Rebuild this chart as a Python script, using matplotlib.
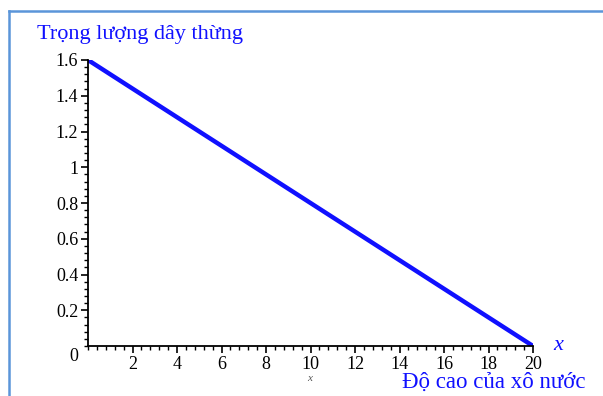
import matplotlib
matplotlib.use("Agg")
import matplotlib.pyplot as plt
from matplotlib.lines import Line2D
from matplotlib.ticker import MultipleLocator

# height of the bucket (m) and rope weight
heights = [0, 2, 4, 6, 8, 10, 12, 14, 16, 18, 20]
weights = [1.6, 1.44, 1.28, 1.12, 0.96, 0.8, 0.64, 0.48, 0.32, 0.16, 0.0]

x_ticks = [2, 4, 6, 8, 10, 12, 14, 16, 18, 20]
y_ticks = [0.2, 0.4, 0.6, 0.8, 1.0, 1.2, 1.4, 1.6]
y_tick_labels = ["0.2", "0.4", "0.6", "0.8", "1", "1.2", "1.4", "1.6"]

title_text = "Trọng lượng dây thừng"
xlabel_text = "Độ cao của xô nước"

serif = ["Liberation Serif", "DejaVu Serif"]
blue = "#1010ff"

fig = plt.figure(figsize=(6.03, 3.96), dpi=100)
W, H = 603, 396

# light blue frame (top and left edges)
frame = "#5b95d9"
fig.add_artist(Line2D([8.5 / W, 8.5 / W], [0, 1 - 10.5 / H], color=frame, lw=1.8,
                      transform=fig.transFigure))
fig.add_artist(Line2D([8.5 / W, 1], [1 - 10.5 / H, 1 - 10.5 / H], color=frame, lw=1.8,
                      transform=fig.transFigure))

ax = fig.add_axes([88 / W, 50 / H, 445 / W, 286 / H])
ax.plot(heights, weights, color=blue, lw=3.2, solid_capstyle="round")

ax.set_xlim(0, 20)
ax.set_ylim(0, 1.6)
for side in ("top", "right"):
    ax.spines[side].set_visible(False)
for side in ("left", "bottom"):
    ax.spines[side].set_linewidth(1.3)
    ax.spines[side].set_color("black")

ax.set_xticks(x_ticks)
ax.set_xticklabels([str(v) for v in x_ticks], fontfamily=serif, fontsize=13)
ax.set_yticks(y_ticks)
ax.set_yticklabels(y_tick_labels, fontfamily=serif, fontsize=13)
ax.xaxis.set_minor_locator(MultipleLocator(0.4))
ax.yaxis.set_minor_locator(MultipleLocator(0.04))
ax.tick_params(which="major", direction="out", length=5, width=1.2, pad=2)
ax.tick_params(which="minor", direction="out", length=3, width=1.0)

ax.text(-0.45, -0.01, "0", ha="right", va="top", fontfamily=serif, fontsize=13)
ax.text(20.9, 0.0, "x", ha="left", va="center", color=blue, fontfamily=serif,
        fontsize=16, style="italic")
ax.text(9.95, -0.155, "x", ha="center", va="top", color="#555555",
        fontfamily=serif, fontsize=8, style="italic")

fig.text(37 / W, 1 - 34 / H, title_text, ha="left", va="center", color=blue,
         fontfamily=serif, fontsize=16)
fig.text(585 / W, 1 - 382 / H, xlabel_text, ha="right", va="center", color=blue,
         fontfamily=serif, fontsize=16.5)

fig.savefig("out.png", dpi=100)
